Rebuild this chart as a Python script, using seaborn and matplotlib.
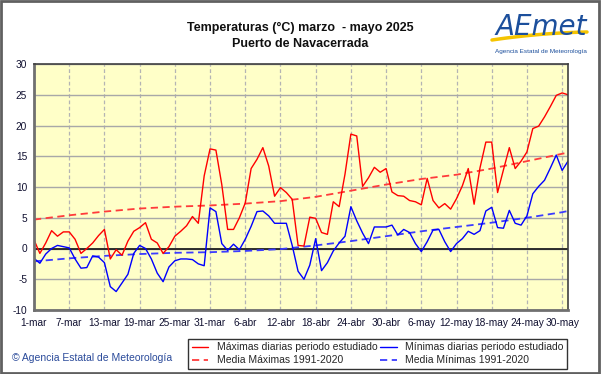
import numpy as np
import pandas as pd
import matplotlib
matplotlib.use('Agg')
import matplotlib.pyplot as plt
import seaborn as sns
from matplotlib.patches import Rectangle
from matplotlib.lines import Line2D

# ---- datos (1-mar .. 31-may 2025) ----
dias = np.arange(92)

tmax = [1.4, -0.8, 0.9, 2.9, 2.0, 2.7, 2.7, 1.5, -0.8, 0.0,
        0.9, 2.1, 3.1, -1.7, -0.2, -1.1, 1.2, 2.8, 3.4, 4.2,
        1.5, 0.9, -0.8, 0.3, 2.0, 2.8, 3.7, 5.2, 4.1, 11.8,
        16.2, 16.0, 10.4, 3.1, 3.1, 5.0, 7.4, 13.0, 14.5, 16.4,
        13.4, 8.5, 9.9, 9.1, 8.0, 0.5, 0.4, 5.1, 4.9, 2.6,
        2.3, 7.6, 6.8, 12.1, 18.6, 18.3, 10.1, 11.5, 13.2, 12.4,
        13.0, 9.2, 8.6, 8.5, 7.8, 7.6, 7.1, 11.4, 7.8, 6.6,
        7.3, 6.4, 8.1, 10.2, 13.0, 7.2, 13.1, 17.3, 17.3, 9.1,
        12.8, 16.4, 13.0, 14.2, 15.7, 19.5, 19.9, 21.4, 23.1, 24.9,
        25.3, 25.0]

tmin = [-1.6, -2.4, -0.9, 0.0, 0.5, 0.3, 0.1, -1.7, -3.2, -3.1,
        -1.2, -1.4, -2.3, -6.2, -7.0, -5.6, -4.2, -0.8, 0.5, 0.0,
        -1.7, -4.0, -5.4, -3.0, -2.0, -1.7, -1.7, -1.8, -2.5, -2.8,
        6.6, 6.0, 0.8, -0.3, 0.7, -0.2, 1.5, 3.6, 6.0, 6.1,
        5.3, 4.1, 4.1, 4.1, 0.5, -3.7, -5.0, -2.7, 1.6, -3.6,
        -2.3, -0.4, 0.9, 2.0, 6.8, 4.5, 2.5, 0.8, 3.5, 3.5,
        3.5, 3.8, 2.2, 3.1, 2.6, 0.8, -0.5, 1.1, 3.0, 3.1,
        1.1, -0.5, 0.8, 1.6, 2.8, 2.3, 2.9, 6.1, 6.7, 3.4,
        3.3, 6.2, 4.1, 3.8, 5.3, 8.9, 10.1, 11.1, 13.1, 15.2,
        12.7, 14.2]

dias_media = [0, 6, 12, 18, 24, 30, 36, 42, 48, 54, 60, 66, 72, 78, 84, 90, 91]
media_max = [4.7, 5.4, 6.0, 6.5, 6.8, 7.0, 7.3, 7.7, 8.4, 9.4, 10.4, 11.3, 12.0, 13.0, 14.2, 15.4, 15.6]
media_min = [-2.1, -1.6, -1.2, -0.9, -0.7, -0.6, -0.4, -0.1, 0.5, 1.2, 2.0, 2.8, 3.5, 4.2, 5.0, 5.9, 6.1]

etiquetas_x = ['1-mar', '7-mar', '13-mar', '19-mar', '25-mar', '31-mar', '6-abr', '12-abr',
               '18-abr', '24-abr', '30-abr', '6-may', '12-may', '18-may', '24-may', '30-may']

df = pd.DataFrame({'dia': dias, 'max': tmax, 'min': tmin})
dfm = pd.DataFrame({'dia': dias_media, 'mmax': media_max, 'mmin': media_min})

# ---- figura ----
sns.set_style('white')
plt.rcParams['font.family'] = ['Liberation Sans', 'DejaVu Sans']
plt.rcParams['axes.unicode_minus'] = False

fig = plt.figure(figsize=(6.01, 3.74), dpi=100)
ax = fig.add_axes([34 / 601, 1 - 310 / 374, (568 - 34) / 601, (310 - 64) / 374])
ax.set_facecolor('#ffffc8')

sns.lineplot(data=dfm, x='dia', y='mmax', ax=ax, color='#ff3b3b', lw=1.3,
             dashes=False, linestyle=(0, (4, 2.5)), label='Media Máximas 1991-2020')
sns.lineplot(data=dfm, x='dia', y='mmin', ax=ax, color='#3b3bff', lw=1.3,
             dashes=False, linestyle=(0, (4, 2.5)), label='Media Mínimas 1991-2020')
sns.lineplot(data=df, x='dia', y='max', ax=ax, color='#ff0000', lw=1.0,
             label='Máximas diarias periodo estudiado')
sns.lineplot(data=df, x='dia', y='min', ax=ax, color='#0000ff', lw=1.0,
             label='Mínimas diarias periodo estudiado')

ax.axhline(0, color='#202020', lw=1.3, zorder=1)

ax.set_xlim(0, 91)
ax.set_ylim(-10, 30)
ax.set_yticks(range(-10, 31, 5))
ax.set_xticks(range(0, 91, 6))
ax.set_xticklabels(etiquetas_x)
ax.tick_params(axis='both', length=0, labelsize=7.3, colors='#101030')
ax.tick_params(axis='x', pad=6)
ax.tick_params(axis='y', pad=5)
ax.set_xlabel('')
ax.set_ylabel('')

ax.grid(axis='y', color='#a8a8a8', lw=1.0, ls='-', zorder=0)
ax.grid(axis='x', color='#b4b4b4', lw=0.9, ls=(0, (3, 2)), zorder=0)
ax.set_axisbelow(True)
for lado in ['left', 'bottom']:
    ax.spines[lado].set_color('#707070')
    ax.spines[lado].set_linewidth(2.0)
for lado in ['top', 'right']:
    ax.spines[lado].set_color('#404040')
    ax.spines[lado].set_linewidth(1.2)

# leyenda
h, l = ax.get_legend_handles_labels()
if ax.get_legend() is not None:
    ax.get_legend().remove()
orden = [l.index('Máximas diarias periodo estudiado'), l.index('Media Máximas 1991-2020'),
         l.index('Mínimas diarias periodo estudiado'), l.index('Media Mínimas 1991-2020')]
leg = fig.legend([h[i] for i in orden], [l[i] for i in orden],
                 loc='lower left', bbox_to_anchor=(188 / 601, 5 / 374, 379 / 601, 33 / 374),
                 mode='expand', ncol=2, fontsize=7.5, frameon=True, fancybox=False,
                 handlelength=1.6, handletextpad=0.8, borderpad=0.35, labelspacing=0.3,
                 borderaxespad=0, columnspacing=1.0)
leg.get_frame().set_edgecolor('black')
leg.get_frame().set_linewidth(1.0)

# titulo
fig.text(0.5, 1 - 28 / 374, 'Temperaturas (°C) marzo  - mayo 2025', ha='center', va='center',
         fontsize=9, fontweight='bold', color='#101010')
fig.text(0.5, 1 - 44 / 374, 'Puerto de Navacerrada', ha='center', va='center',
         fontsize=9, fontweight='bold', color='#101010')

# logo AEMET
t = np.linspace(0, 1, 30)
fig.add_artist(Line2D(492 / 601 + t * 95 / 601, 1 - (40 - 14 * t + 6 * t ** 2) / 374,
                      color='#f5c400', lw=2.5, transform=fig.transFigure))
fig.text(541 / 601, 1 - 27 / 374, 'AEmet', ha='center', va='center', fontsize=20,
         style='italic', color='#1c4f9c', family='DejaVu Sans')
fig.text(541 / 601, 1 - 51 / 374, 'Agencia Estatal de Meteorología', ha='center', va='center',
         fontsize=4.6, color='#1c4f9c')

# pie
fig.text(12 / 601, 1 - 358 / 374, '© Agencia Estatal de Meteorología', ha='left', va='center',
         fontsize=7.5, color='#2a4a9a')

# marco exterior
fig.add_artist(Rectangle((0.002, 0.003), 0.995, 0.994, transform=fig.transFigure,
                         fill=False, edgecolor='#606060', lw=2))

fig.savefig('out.png', dpi=100)
